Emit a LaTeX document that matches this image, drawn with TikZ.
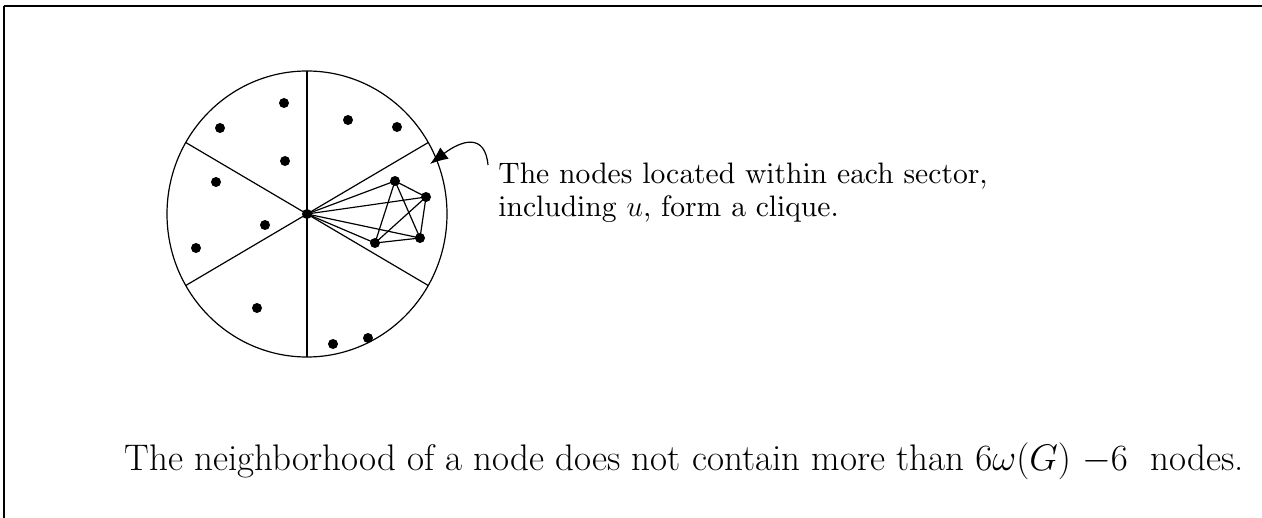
\RequirePackage{fix-cm}
\documentclass[tikz,border=0pt]{standalone}
\usepackage{tikz}
\usetikzlibrary{arrows.meta}
\font\notefont=cmr10 at 14.8pt

\begin{document}
\begin{tikzpicture}[
  x=0.5pt, y=-0.5pt,
  >={Latex[length=9pt, width=7pt]},
  dot/.style={circle, fill, inner sep=0pt, minimum size=5pt},
  wire/.style={line width=0.6pt},
  ]
  \def\Cx{307}
  \def\Cy{214}
  \def\Rx{140}
  \def\Ry{143}

  \useasboundingbox (0,0) rectangle (1262,518);

  % Page frame (top and left edge)
  \draw[line width=1.4pt] (4,6) -- (1262,6);
  \draw[line width=1pt] (4,6) -- (4,518);

  % Disk around u with its six sectors
  \node[dot] (u) at (\Cx,\Cy) {};
  \draw[wire] (u.center) ellipse [x radius=70pt, y radius=71.5pt];
  \foreach \a in {30, 90, ..., 330} {
    \draw[wire] (u.center) -- ++({\Rx*cos(\a)}, {-\Ry*sin(\a)});
  }

  % Scattered neighbours
  \foreach \name/\x/\y in {p1/284/103, p2/220/128, p3/285/161, p4/216/182,
      p5/265/225, p6/196/248, p7/348/120, p8/397/127, p9/257/308,
      p10/333/344, p11/368/338} {
    \node[dot] (\name) at (\x,\y) {};
  }

  % Clique in the right sector
  \node[dot] (c1) at (395,181) {};
  \node[dot] (c2) at (426,197) {};
  \node[dot] (c3) at (375,243) {};
  \node[dot] (c4) at (420,238) {};
  \foreach \a/\b in {u/c1, u/c2, u/c3, u/c4, c1/c2, c1/c3, c1/c4,
      c2/c3, c2/c4, c3/c4} {
    \draw[wire] (\a.center) -- (\b.center);
  }

  % Callout text and its arrow
  \node[anchor=north west, inner sep=0pt, align=left,
    font={\fontsize{14.8}{16.5}\selectfont\notefont}] (note) at (498,163)
    {The nodes located within each sector,\\including $u$, form a clique.};
  \coordinate (tip) at (430,164);
  \draw[->, wire] ([xshift=-5pt, yshift=-1pt]note.north west)
    .. controls +(-3,-32) and +(32,-24) .. (tip);

  % Bound on the neighbourhood
  \node[anchor=base west, inner sep=0pt,
    font=\fontsize{18.5}{22}\selectfont] (claim) at (124,470)
    {The neighborhood of a node does not contain more than $6\omega(G)$ $-6$\ \ nodes.};
\end{tikzpicture}
\end{document}
